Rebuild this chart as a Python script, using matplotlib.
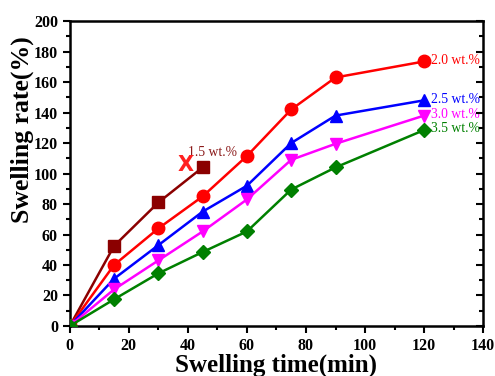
import matplotlib
matplotlib.use('Agg')
from matplotlib import pyplot as plt

plt.rcParams['font.family'] = ['Liberation Serif', 'DejaVu Serif']

# 数据
t_short = [0, 15, 30, 45]
t_full = [0, 15, 30, 45, 60, 75, 90, 120]
rate_15 = [0, 52.5, 81, 104]
rate_20 = [0, 40, 64, 85, 111.5, 142, 163, 173.5]
rate_25 = [0, 31, 53, 75, 92, 120, 138, 148]
rate_30 = [0, 24, 43, 62, 83, 109, 119.5, 138]
rate_35 = [0, 17.5, 34.5, 48.5, 62, 89.5, 104, 128.5]

series = [
    (t_short, rate_15, '#8B0000', 's', '1.5 wt.%'),
    (t_full, rate_20, '#FF0000', 'o', '2.0 wt.%'),
    (t_full, rate_25, '#0000FF', '^', '2.5 wt.%'),
    (t_full, rate_30, '#FF00FF', 'v', '3.0 wt.%'),
    (t_full, rate_35, '#008000', 'D', '3.5 wt.%'),
]

fig = plt.figure(figsize=(4.95, 3.76), dpi=100)
ax = fig.add_axes([0.141, 0.133, 0.835, 0.811])

for x, y, c, m, lab in series:
    ms = 7.5 if m == 'D' else 9
    ax.plot(x, y, color=c, marker=m, markersize=ms, linewidth=1.8, zorder=3)

# 标注
fs = 9.8
ax.text(122.5, 174, '2.0 wt.%', color='#FF0000', fontsize=fs, va='center', ha='left')
ax.text(122.5, 148.5, '2.5 wt.%', color='#0000FF', fontsize=fs, va='center', ha='left')
ax.text(122.5, 139, '3.0 wt.%', color='#FF00FF', fontsize=fs, va='center', ha='left')
ax.text(122.5, 129.5, '3.5 wt.%', color='#008000', fontsize=fs, va='center', ha='left')
ax.text(40, 113.5, '1.5 wt.%', color='#8B1A1A', fontsize=fs, va='center', ha='left')
ax.text(39.3, 105.5, 'X', color='#FF2020', fontsize=15, fontweight='bold', va='center', ha='center',
        family=['DejaVu Sans'])

ax.set_xlim(0, 140)
ax.set_ylim(0, 200)
ax.set_xticks(range(0, 141, 20))
ax.set_xticks(range(0, 141, 10), minor=True)
ax.set_yticks(range(0, 201, 20))
ax.set_yticks(range(0, 201, 10), minor=True)

for s in ['left', 'bottom', 'right', 'top']:
    ax.spines[s].set_linewidth(1.8)

ax.tick_params(which='both', direction='out', width=1.5, labelsize=11.5)
ax.tick_params(which='major', length=5)
ax.tick_params(which='minor', length=3)
for lab in ax.get_xticklabels() + ax.get_yticklabels():
    lab.set_fontweight('bold')

# 右侧刻度朝内
ax2 = ax.twinx()
ax2.set_ylim(0, 200)
ax2.set_yticks(range(0, 201, 20))
ax2.set_yticks(range(0, 201, 10), minor=True)
ax2.tick_params(which='both', direction='in', width=1.5, labelright=False)
ax2.tick_params(which='major', length=5)
ax2.tick_params(which='minor', length=3)
for s in ax2.spines.values():
    s.set_visible(False)

ax.set_xlabel('Swelling time(min)', fontsize=18, fontweight='bold', labelpad=0)
ax.set_ylabel('Swelling rate(%)', fontsize=18.5, fontweight='bold', labelpad=2)
ax.yaxis.set_label_coords(-0.087, 0.645)

plt.savefig('out.png', dpi=100)
